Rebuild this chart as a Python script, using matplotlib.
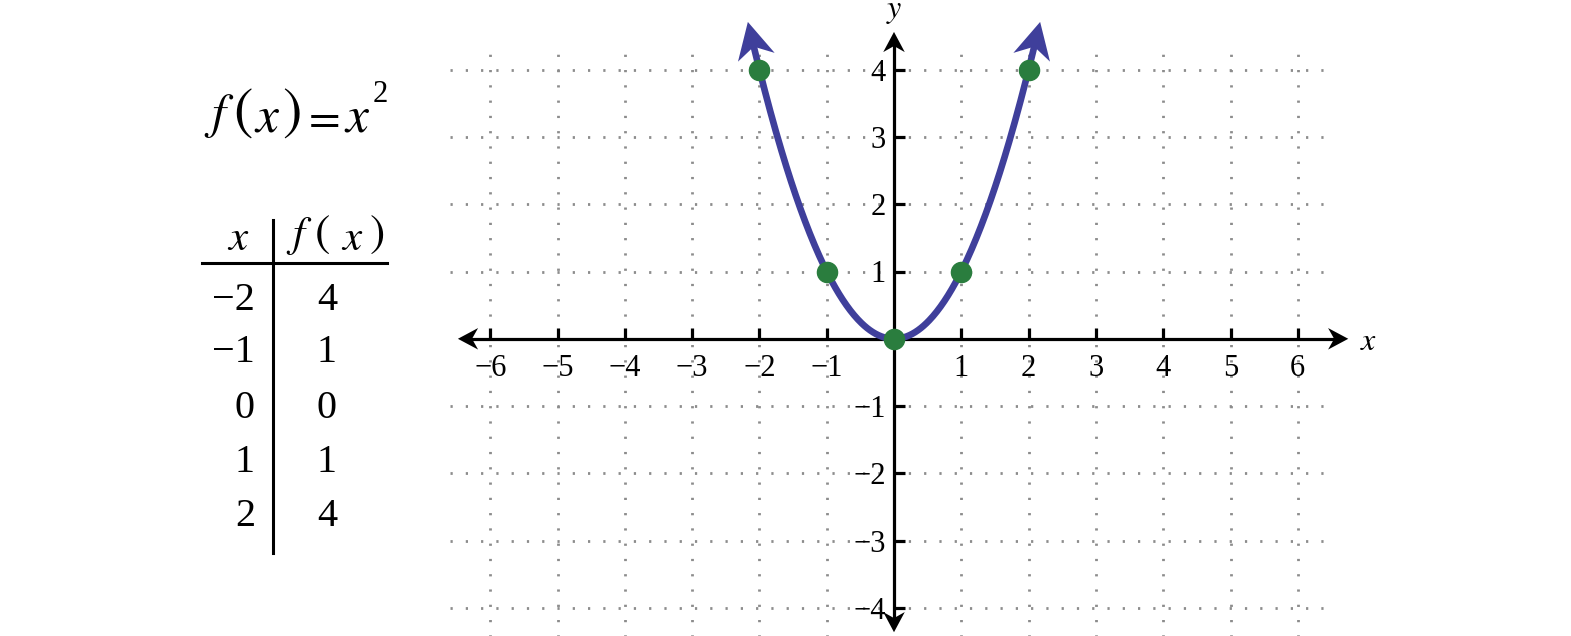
import matplotlib.pyplot as plt
import numpy as np

plt.rcParams['font.family'] = ['Liberation Serif', 'DejaVu Serif']
plt.rcParams['mathtext.fontset'] = 'stix'

# table values for f(x) = x^2
table_x = [-2, -1, 0, 1, 2]
table_y = [4, 1, 0, 1, 4]
x_ticks = [-6, -5, -4, -3, -2, -1, 1, 2, 3, 4, 5, 6]
y_ticks = [-4, -3, -2, -1, 1, 2, 3, 4]

blue = '#3f3f9b'
green = '#2a7d3e'
W, H = 1571, 636

fig = plt.figure(figsize=(W / 100, H / 100), dpi=100)
ax = fig.add_axes([0, 0, 1, 1])
# one data unit is ~67.3 px, origin at (894, 338.8) px
u = 67.3
ax.set_xlim(-894 / u, (W - 894) / u)
ax.set_ylim((338.8 - H) / u, 338.8 / u)
ax.set_facecolor('white')


def minus(v):
    return str(v).replace('-', '\u2212')


def stealth(tip, d, length, half, color, notch=0.3):
    d = np.asarray(d, float)
    d = d / np.hypot(*d)
    p = np.array([-d[1], d[0]])
    tip = np.asarray(tip, float)
    back = tip - d * length
    pts = [tip, back + p * half, tip - d * length * (1 - notch), back - p * half]
    ax.add_patch(plt.Polygon(pts, closed=True, color=color, lw=0, zorder=6))


# dotted grid
grid_kw = dict(colors='#8c8c8c', linewidth=2.0, linestyles=(0, (0.8, 4.7)), zorder=1)
ax.hlines(y_ticks, -6.6, 6.55, **grid_kw)
ax.vlines(x_ticks, -4.6, 4.33, **grid_kw)

# axes as spines through the origin
for side in ['top', 'right']:
    ax.spines[side].set_visible(False)
ax.spines['left'].set_position(('data', 0))
ax.spines['bottom'].set_position(('data', 0))
ax.spines['bottom'].set_bounds(-6.35, 6.6)
ax.spines['left'].set_bounds(-4.2, 4.4)
for s in ['left', 'bottom']:
    ax.spines[s].set_linewidth(2.3)
    ax.spines[s].set_zorder(3)
ax.set_xticks(x_ticks, [minus(v) for v in x_ticks])
ax.set_yticks(y_ticks, [minus(v) for v in y_ticks])
ax.tick_params(direction='in', length=8, width=2.3, labelsize=22, color='black')
ax.tick_params(axis='x', pad=11)
ax.tick_params(axis='y', pad=6)
stealth((6.75, 0), (1, 0), 0.3, 0.16, 'black')
stealth((-6.48, 0), (-1, 0), 0.3, 0.16, 'black')
stealth((0, 4.56), (0, 1), 0.3, 0.16, 'black')
stealth((0, -4.36), (0, -1), 0.3, 0.16, 'black')
ax.text(7.05, -0.06, '$x$', fontsize=23, ha='center', va='center')
ax.text(0.0, 4.86, '$y$', fontsize=23, ha='center', va='center')

# parabola
xe = 2.09
xs = np.linspace(-xe, xe, 300)
ax.plot(xs, xs ** 2, color=blue, lw=4.8, zorder=4, solid_capstyle='butt')
for sgn in (-1, 1):
    end = np.array([sgn * xe, xe ** 2])
    d = np.array([sgn * 1.0, 2 * xe])
    d = d / np.hypot(*d)
    stealth(end + d * 0.35, d, 0.54, 0.28, blue, notch=0.3)

ax.plot(table_x, table_y, 'o', color=green, ms=14.5, zorder=7)


# formula and value table on the left (pixel positions from the top-left)
def put(s, px, py, size, **kw):
    fig.text(px / W, 1 - py / H, s, fontsize=size, ha='center', va='center', **kw)


# f(x) = x^2 with tall brackets, piece by piece
put('$f$', 219, 116, 36)
put('$($', 243, 113, 42)
put('$x$', 267, 119, 37)
put('$)$', 291, 113, 42)
put('$=$', 321, 119, 33)
put('$x$', 357, 119, 37)
put('2', 380, 95, 22)

# table header
put('$x$', 238, 240, 31)
put('$f$', 299, 236, 31)
put('$($', 322, 235, 33)
put('$x$', 352, 240, 31)
put('$)$', 377, 235, 33)

fig.add_artist(plt.Line2D([202 / W, 387 / W], [1 - 263 / H] * 2, color='black', lw=2.2))
fig.add_artist(plt.Line2D([273 / W] * 2, [1 - 220 / H, 1 - 553 / H], color='black', lw=2.2))
row_y = [300, 353, 409, 463, 517]
for xv, yv, py in zip(table_x, table_y, row_y):
    fig.text(255 / W, 1 - py / H, minus(xv), fontsize=29, ha='right', va='center')
    put(str(yv), 327, py, 29)

fig.savefig('out.png', dpi=100, facecolor='white')
